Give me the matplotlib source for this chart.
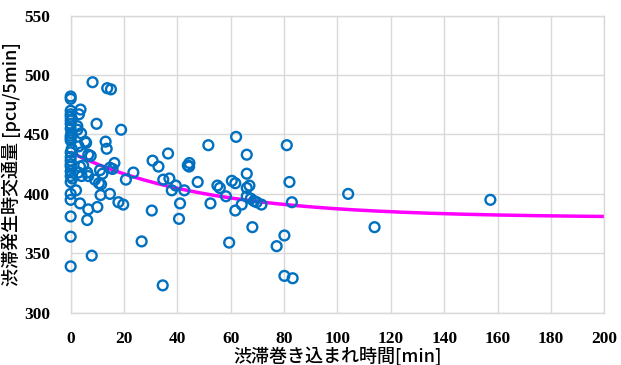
import matplotlib.pyplot as plt
import numpy as np

# scatter data: congestion time [min] vs flow [pcu/5min]
time_min = [
    0, 0, 0, 0, 0, 0, 0, 0, 0, 0, 0, 0, 0, 0, 0, 0, 0, 0, 0, 0, 0, 0, 0, 0,
    0.5, 0.3, 0.4, 0.6,
    8.2, 13.7, 15.1, 3.7, 3.1, 9.7, 2.5, 2.5, 3.9, 18.9, 5.4, 5.8, 13.1, 13.5,
    3.0, 4.1, 6.6, 7.5, 4.7, 3.5, 16.4, 14.7, 15.7, 11.0, 11.9, 6.2, 6.6, 2.9,
    4.1, 9.1, 10.6, 11.4, 20.7, 23.5, 2.0, 11.2, 14.7, 3.5, 17.9, 19.7, 10.0,
    6.6, 6.2, 7.9, 26.6, 30.7, 32.9, 36.5, 34.7, 37.0, 37.9, 39.4, 42.6, 41.0,
    40.6, 30.4, 34.5, 43.9, 44.5, 44.4, 47.6, 51.6, 52.4, 55.0, 55.9, 58.2,
    59.4, 60.4, 61.7, 62.0, 61.7, 66.0, 66.0, 66.0, 67.0, 66.0, 64.1, 67.5,
    68.7, 69.7, 71.5, 68.1, 77.2, 81.0, 82.0, 82.9, 80.1, 80.1, 83.2,
    104.0, 113.9, 157.3,
]
flow = [
    482, 480, 470, 467, 465, 462, 459, 455, 449, 447, 445, 435, 431, 428, 425,
    423, 419, 415, 410, 400, 395, 381, 364, 339,
    463, 451, 438, 413,
    494, 489, 488, 471, 467, 459, 457, 454, 451, 454, 444, 443, 444, 438,
    440, 435, 433, 432, 424, 423, 426, 422, 421, 420, 417, 418, 415, 418,
    415, 412, 409, 408, 412, 418, 403, 399, 400, 392, 393, 391, 389,
    387, 378, 348, 360, 428, 423, 434, 412, 413, 403, 407, 403, 392,
    379, 386, 323, 424, 426, 423, 410, 441, 392, 407, 405, 398,
    359, 411, 409, 448, 386, 433, 417, 405, 407, 398, 391, 396,
    394, 393, 391, 372, 356, 441, 410, 393, 365, 331, 329,
    400, 372, 395,
]

# fitted trend curve parameters
curve_base = 380
curve_amp = 55
curve_tau = 50

xticks = list(range(0, 201, 20))
yticks = list(range(300, 551, 50))

fig = plt.figure(figsize=(6.21, 3.65), dpi=100)
ax = fig.add_axes([0.1138, 0.1433, 0.8593, 0.8137])

ax.scatter(time_min, flow, s=50, facecolors="none", edgecolors="#0070C0",
           linewidths=1.7, zorder=3, clip_on=False)

xc = np.linspace(0, 200, 300)
yc = curve_base + curve_amp * np.exp(-xc / curve_tau)
ax.plot(xc, yc, color="#FF00FF", linewidth=2.5, zorder=2)

ax.set_xlim(0, 200)
ax.set_ylim(300, 550)
ax.set_xticks(xticks)
ax.set_yticks(yticks)
ax.grid(True, color="#D9D9D9", linewidth=1.0)
ax.set_axisbelow(True)
for s in ax.spines.values():
    s.set_color("#D9D9D9")
    s.set_linewidth(1.0)
ax.tick_params(length=0)
ax.tick_params(axis="y", pad=15)
ax.tick_params(axis="x", pad=13)
for lab in ax.get_xticklabels() + ax.get_yticklabels():
    lab.set_fontfamily("Liberation Serif")
    lab.set_fontweight("bold")
    lab.set_fontsize(12.5)

cjk = ["Noto Sans CJK JP", "DejaVu Sans"]
ax.set_xlabel("渋滞巻き込まれ時間[min]", family=cjk, fontsize=13,
              fontweight="medium", labelpad=0)
ax.set_ylabel("渋滞発生時交通量 [pcu/5min]", family=cjk, fontsize=13,
              fontweight="medium", labelpad=2)

fig.savefig("out.png", dpi=100)
